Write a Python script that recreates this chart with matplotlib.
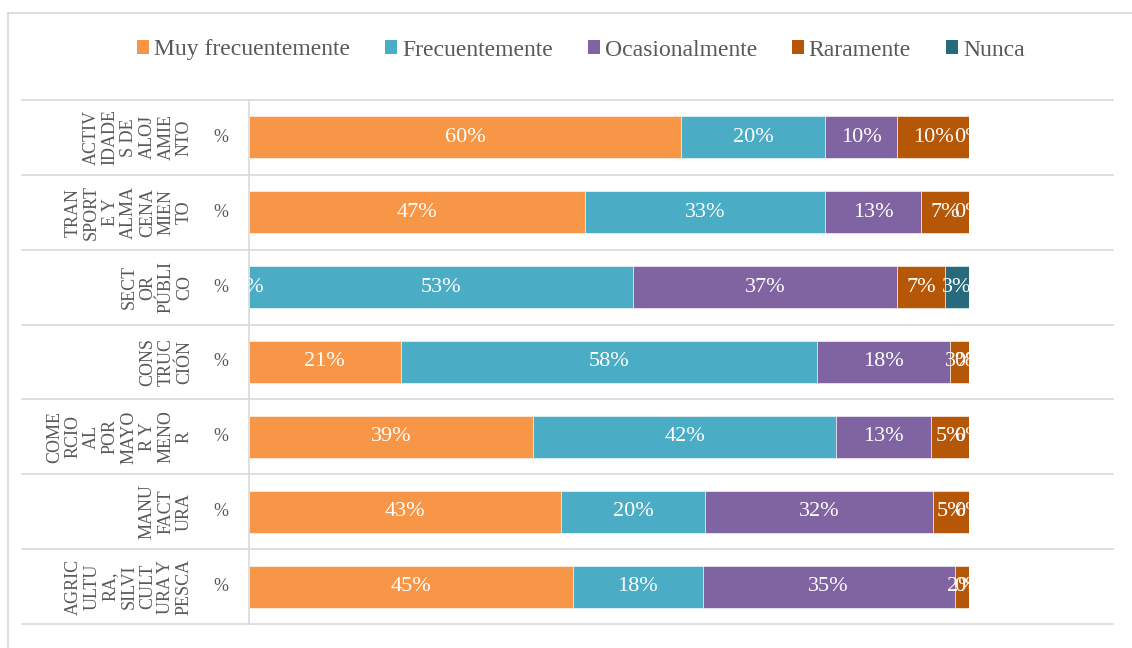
import matplotlib.pyplot as plt
from matplotlib.lines import Line2D
from matplotlib.patches import Patch

plt.rcParams['font.family'] = ['Liberation Serif', 'DejaVu Serif']

# sectors, top to bottom, wrapped the way the chart shows them
sectores = [
    "ACTIV\nIDADE\nS DE\nALOJ\nAMIE\nNTO",
    "TRAN\nSPORT\nE Y\nALMA\nCENA\nMIEN\nTO",
    "SECT\nOR\nPÚBLI\nCO",
    "CONS\nTRUC\nCIÓN",
    "COME\nRCIO\nAL\nPOR\nMAYO\nR Y\nMENO\nR",
    "MANU\nFACT\nURA",
    "AGRIC\nULTU\nRA,\nSILVI\nCULT\nURA Y\nPESCA",
]
subetiqueta = "%"

series = ["Muy frecuentemente", "Frecuentemente", "Ocasionalmente", "Raramente", "Nunca"]
muy_frec = [60, 46.67, 0, 21.05, 39.47, 43.33, 45]
frec = [20, 33.33, 53.33, 57.89, 42.11, 20, 18]
ocasional = [10, 13.33, 36.67, 18.42, 13.16, 31.67, 35]
rara = [10, 6.67, 6.67, 2.63, 5.26, 5, 2]
nunca = [0, 0, 3.33, 0, 0, 0, 0]
valores = [muy_frec, frec, ocasional, rara, nunca]
colores = ["#F79646", "#4BACC6", "#8064A2", "#B65708", "#276A7C"]

gris = "#595959"
linea = "#D9D9D9"
W, H = 1132, 648

fig = plt.figure(figsize=(W / 100, H / 100), dpi=100)
ax = fig.add_axes([249 / W, 24 / H, 720 / W, 524 / H])

n = len(sectores)
ys = [n - 1 - i for i in range(n)]
izq = [0] * n
for nombre, vals, col in zip(series, valores, colores):
    ax.barh(ys, vals, left=izq, height=0.56, color=col, edgecolor="white", linewidth=0.4, label=nombre)
    for y, l, v in zip(ys, izq, vals):
        ax.text(l + v / 2, y, f"{round(v)}%", ha="center", va="center",
                color="white", fontsize=16, clip_on=True)
    izq = [a + b for a, b in zip(izq, vals)]

ax.set_xlim(0, 100)
ax.set_ylim(-0.5, n - 0.5)
ax.set_xticks([])
ax.set_yticks([])
for s in ["top", "right", "bottom"]:
    ax.spines[s].set_visible(False)
ax.spines["left"].set_color(linea)
ax.spines["left"].set_linewidth(1.2)

tr = ax.get_yaxis_transform()
for k in range(n + 1):
    ax.plot([(22 - 249) / 720, (1113 - 249) / 720], [k - 0.5, k - 0.5],
            color=linea, lw=1.2, transform=tr, clip_on=False)

for y, nombre in zip(ys, sectores):
    ax.text((193 - 249) / 720, y, nombre, rotation=90, ha="right", va="center",
            multialignment="center", color=gris, fontsize=13, transform=tr,
            clip_on=False, linespacing=1.12)
    ax.text((221 - 249) / 720, y, subetiqueta, ha="center", va="center",
            color=gris, fontsize=13, transform=tr, clip_on=False)

# chart frame
fig.add_artist(Line2D([8 / W, 8 / W], [0, 1 - 13 / H], color=linea, lw=1.2))
fig.add_artist(Line2D([8 / W, 1], [1 - 13 / H, 1 - 13 / H], color=linea, lw=1.2))

handles = [Patch(facecolor=c, label=s) for s, c in zip(series, colores)]
fig.legend(handles=handles, loc="center", bbox_to_anchor=(0.5 + 15 / W, 1 - 50 / H), ncol=5,
           frameon=False, fontsize=17, handlelength=0.5, handleheight=0.5,
           handletextpad=0.2, columnspacing=1.5, labelcolor=gris)

fig.savefig("out.png", dpi=100)
